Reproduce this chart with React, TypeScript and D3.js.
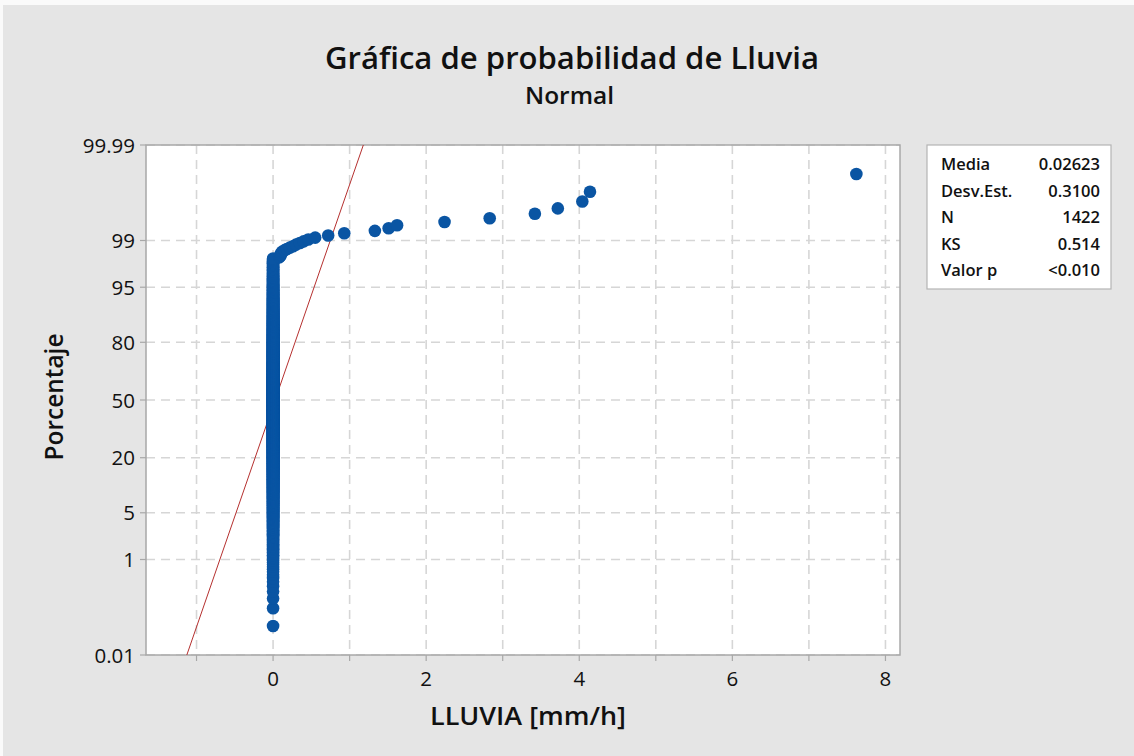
import React from "react";
import * as d3 from "d3";

// ---- data ----
const sampleSize = 1422;
const zeroCount = 1395; // observations equal to 0 mm/h
const rainValues = [
  0.08, 0.09, 0.1, 0.1, 0.11, 0.12, 0.15, 0.18, 0.22, 0.26, 0.3, 0.35, 0.4,
  0.46, 0.55, 0.72, 0.93, 1.33, 1.51, 1.62, 2.24, 2.83, 3.42, 3.72, 4.04,
  4.14, 7.62,
];
const fitMean = 0.02623;
const fitSd = 0.31;
const statLabels = ["Media", "Desv.Est.", "N", "KS", "Valor p"];
const statValues = ["0.02623", "0.3100", "1422", "0.514", "<0.010"];
const yTickPercents = [0.01, 1, 5, 20, 50, 80, 95, 99, 99.99];
const yTickLabels = ["0.01", "1", "5", "20", "50", "80", "95", "99", "99.99"];
const xTickValues = [-1, 0, 1, 2, 3, 4, 5, 6, 7, 8];
const xLabelValues = [0, 2, 4, 6, 8];

// inverse standard normal CDF (Acklam)
function probit(p: number): number {
  const a = [-39.69683028665376, 220.9460984245205, -275.928510446969, 138.357751867269, -30.66479806614716, 2.506628277459239];
  const b = [-54.47609879822406, 161.5858368580409, -155.6989798598866, 66.80131188771972, -13.28068155288572];
  const c = [-0.007784894002430293, -0.3223964580411365, -2.400758277161838, -2.549732539343734, 4.374664141464968, 2.938163982698783];
  const d = [0.007784695709041462, 0.3224671290700398, 2.445134137142996, 3.754408661907416];
  const pl = 0.02425;
  if (p < pl) {
    const q = Math.sqrt(-2 * Math.log(p));
    return (((((c[0] * q + c[1]) * q + c[2]) * q + c[3]) * q + c[4]) * q + c[5]) / ((((d[0] * q + d[1]) * q + d[2]) * q + d[3]) * q + 1);
  } else if (p <= 1 - pl) {
    const q = p - 0.5;
    const r = q * q;
    return ((((((a[0] * r + a[1]) * r + a[2]) * r + a[3]) * r + a[4]) * r + a[5]) * q) / (((((b[0] * r + b[1]) * r + b[2]) * r + b[3]) * r + b[4]) * r + 1);
  } else {
    const q = Math.sqrt(-2 * Math.log(1 - p));
    return -(((((c[0] * q + c[1]) * q + c[2]) * q + c[3]) * q + c[4]) * q + c[5]) / ((((d[0] * q + d[1]) * q + d[2]) * q + d[3]) * q + 1);
  }
}

const W = 1134;
const H = 756;
const plot = { left: 146, right: 900, top: 145, bottom: 655 };
const FONT = "'Open Sans', 'Noto Sans', sans-serif";

export default function App() {
  const x = d3.scaleLinear().domain([-1.66, 8.19]).range([plot.left, plot.right]);
  const zMin = probit(0.0001);
  const zMax = probit(0.9999);
  const y = d3.scaleLinear().domain([zMin, zMax]).range([plot.bottom, plot.top]);

  const sorted = d3.sort(
    (new Array(zeroCount).fill(0) as number[]).concat(rainValues),
    (a, b) => a - b
  );
  const n = sampleSize;
  const points = sorted.map((v, i) => ({
    v,
    z: probit((i + 1 - 0.3) / (n + 0.4)),
  }));

  const fitLine = d3
    .line<number>()
    .x((z) => x(fitMean + fitSd * z))
    .y((z) => y(z));
  const zTopLine = Math.min(zMax, (x.invert(plot.right) - fitMean) / fitSd);
  const zBottomLine = Math.max(zMin, (x.invert(plot.left) - fitMean) / fitSd);

  const gridColor = "#d6d6d6";
  const axisColor = "#a8a8a8";
  const textColor = "#111";

  return (
    <svg
      width={W}
      height={H}
      style={{ position: "absolute", left: 0, top: 0, display: "block" }}
      fontFamily={FONT}
    >
      <rect x={0} y={0} width={W} height={H} fill="#fafafa" />
      <rect x={3} y={5} width={W - 3} height={H - 5} fill="#e5e5e5" />

      {/* title */}
      <text x={572} y={69} textAnchor="middle" fontSize={30.5} fontWeight={600} fill={textColor} textLength={494} lengthAdjust="spacingAndGlyphs">
        Gráfica de probabilidad de Lluvia
      </text>
      <text x={569.5} y={104} textAnchor="middle" fontSize={24} fontWeight={600} fill={textColor} textLength={89} lengthAdjust="spacingAndGlyphs">
        Normal
      </text>

      {/* plot area */}
      <rect
        x={plot.left}
        y={plot.top}
        width={plot.right - plot.left}
        height={plot.bottom - plot.top}
        fill="#ffffff"
      />

      {/* grid */}
      {xTickValues.map((t) => (
        <line
          key={"gx" + t}
          x1={x(t)}
          x2={x(t)}
          y1={plot.top}
          y2={plot.bottom}
          stroke={gridColor}
          strokeWidth={1.6}
          strokeDasharray="9,6"
        />
      ))}
      {yTickPercents.map((t) => (
        <line
          key={"gy" + t}
          x1={plot.left}
          x2={plot.right}
          y1={y(probit(t / 100))}
          y2={y(probit(t / 100))}
          stroke={gridColor}
          strokeWidth={1.6}
          strokeDasharray="9,6"
        />
      ))}

      {/* frame */}
      <rect
        x={plot.left}
        y={plot.top}
        width={plot.right - plot.left}
        height={plot.bottom - plot.top}
        fill="none"
        stroke={axisColor}
        strokeWidth={1.5}
      />

      {/* y ticks */}
      {yTickPercents.map((t, i) => {
        const yy = y(probit(t / 100));
        return (
          <g key={"yt" + t}>
            <line x1={plot.left - 6} x2={plot.left} y1={yy} y2={yy} stroke={axisColor} strokeWidth={1.2} />
            <text x={plot.left - 11} y={yy + 7.5} textAnchor="end" fontSize={20.5} fill={textColor}>
              {yTickLabels[i]}
            </text>
          </g>
        );
      })}

      {/* x ticks */}
      {xTickValues.map((t) => (
        <line
          key={"xt" + t}
          x1={x(t)}
          x2={x(t)}
          y1={plot.bottom}
          y2={plot.bottom + 6}
          stroke={axisColor}
          strokeWidth={1.2}
        />
      ))}
      {xLabelValues.map((t) => (
        <text key={"xl" + t} x={x(t)} y={686} textAnchor="middle" fontSize={20.5} fill={textColor}>
          {t}
        </text>
      ))}

      {/* axis titles */}
      <text x={528} y={725} textAnchor="middle" fontSize={25} fontWeight={600} fill={textColor} textLength={196} lengthAdjust="spacingAndGlyphs">
        LLUVIA [mm/h]
      </text>
      <text
        transform={`translate(63,397) rotate(-90)`}
        textAnchor="middle"
        fontSize={25}
        fontWeight={600}
        fill={textColor}
        textLength={127}
        lengthAdjust="spacingAndGlyphs"
      >
        Porcentaje
      </text>

      {/* fitted line */}
      <path
        d={fitLine([zBottomLine, zTopLine]) || ""}
        fill="none"
        stroke="#b5302f"
        strokeWidth={1}
      />

      {/* points */}
      <g fill="#0a55a3">
        {points.map((p, i) => (
          <circle key={i} cx={x(p.v)} cy={y(p.z)} r={6.3} />
        ))}
      </g>

      {/* stats box */}
      <rect x={927} y={145} width={184} height={144} fill="#ffffff" stroke="#b4b4b4" strokeWidth={1.2} />
      {statLabels.map((lab, i) => (
        <g key={lab}>
          <text x={941} y={170 + i * 26.5} fontSize={16.5} fontWeight={600} fill={textColor}>
            {lab}
          </text>
          <text x={1100} y={170 + i * 26.5} textAnchor="end" fontSize={16.5} fontWeight={600} fill={textColor}>
            {statValues[i]}
          </text>
        </g>
      ))}
    </svg>
  );
}
